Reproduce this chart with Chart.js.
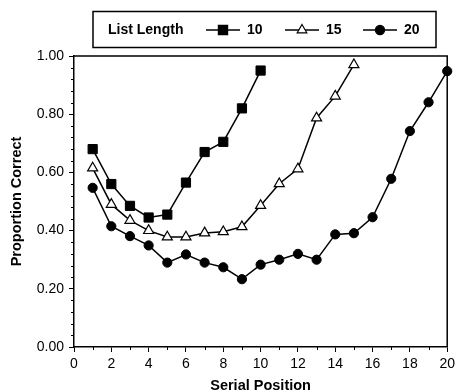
<!DOCTYPE html>
<html>
<head>
<meta charset="utf-8">
<script src="https://cdn.jsdelivr.net/npm/chart.js@4/dist/chart.umd.min.js"></script>
<style>
  body { margin: 0; background: #fff; }
  canvas { display: block; }
</style>
</head>
<body>
<canvas id="serialChart" width="459" height="391"></canvas>
<script>
// serial positions and proportion correct for each list length
const positions = [1, 2, 3, 4, 5, 6, 7, 8, 9, 10, 11, 12, 13, 14, 15, 16, 17, 18, 19, 20];
const len10 = [0.68, 0.56, 0.485, 0.445, 0.455, 0.565, 0.67, 0.705, 0.82, 0.95];
const len15 = [0.615, 0.49, 0.435, 0.40, 0.378, 0.378, 0.392, 0.396, 0.413, 0.486, 0.561, 0.612, 0.787, 0.862, 0.97];
const len20 = [0.547, 0.415, 0.381, 0.349, 0.29, 0.318, 0.29, 0.274, 0.233, 0.283, 0.30, 0.32, 0.30, 0.387, 0.391, 0.446, 0.578, 0.742, 0.841, 0.948];
const listLabels = ['10', '15', '20'];
const yTicks = [0, 0.2, 0.4, 0.6, 0.8, 1.0];

const FONT = '"Liberation Sans", Arial, Helvetica, sans-serif';

function pts(vals) {
    return vals.map((v, i) => ({ x: positions[i], y: v }));
}

// marker for the legend, same shapes as the series
function marker(ctx, style, x, y) {
    ctx.save();
    ctx.lineWidth = 1.2;
    ctx.strokeStyle = '#000';
    ctx.beginPath();
    if (style === 'rect') {
        ctx.rect(x - 4.6, y - 4.6, 9.2, 9.2);
        ctx.fillStyle = '#000';
    } else if (style === 'triangle') {
        ctx.moveTo(x, y - 5.5);
        ctx.lineTo(x + 4.8, y + 2.8);
        ctx.lineTo(x - 4.8, y + 2.8);
        ctx.closePath();
        ctx.fillStyle = '#fff';
    } else {
        ctx.arc(x, y, 4.6, 0, Math.PI * 2);
        ctx.fillStyle = '#000';
    }
    ctx.fill();
    ctx.stroke();
    ctx.restore();
}

// box legend across the top
const boxLegend = {
    id: 'boxLegend',
    afterDraw(chart) {
        const ctx = chart.ctx;
        ctx.save();
        ctx.strokeStyle = '#000';
        ctx.lineWidth = 1.5;
        ctx.strokeRect(93, 11.5, 343, 36);
        ctx.fillStyle = '#000';
        ctx.font = 'bold 14px ' + FONT;
        ctx.textBaseline = 'middle';
        ctx.fillText('List Length', 108, 30);
        const starts = [206, 285, 363];
        chart.data.datasets.forEach((ds, i) => {
            const x0 = starts[i];
            ctx.beginPath();
            ctx.lineWidth = 1.5;
            ctx.moveTo(x0, 30);
            ctx.lineTo(x0 + 34, 30);
            ctx.stroke();
            marker(ctx, ds.pointStyle, x0 + 17, 30);
            ctx.fillStyle = '#000';
            ctx.font = 'bold 14px ' + FONT;
            ctx.fillText(listLabels[i], x0 + 41, 30);
        });
        ctx.restore();
    }
};

// top/right frame and the short minor ticks
const frame = {
    id: 'frame',
    afterDraw(chart) {
        const { ctx, chartArea: a, scales } = chart;
        ctx.save();
        ctx.strokeStyle = '#000';
        ctx.lineWidth = 1.5;
        ctx.beginPath();
        ctx.moveTo(a.left, a.top);
        ctx.lineTo(a.right, a.top);
        ctx.lineTo(a.right, a.bottom);
        ctx.stroke();
        ctx.lineWidth = 1;
        ctx.beginPath();
        for (let v = 1; v < 20; v += 2) {
            const x = Math.round(scales.x.getPixelForValue(v)) + 0.5;
            ctx.moveTo(x, a.bottom);
            ctx.lineTo(x, a.bottom + 3);
        }
        for (let k = 1; k < 25; k++) {
            if (k % 5 === 0) continue;
            const y = Math.round(scales.y.getPixelForValue(k * 0.04)) + 0.5;
            ctx.moveTo(a.left - 3, y);
            ctx.lineTo(a.left, y);
        }
        ctx.stroke();
        ctx.restore();
    }
};

new Chart(document.getElementById('serialChart'), {
    type: 'line',
    data: {
        datasets: [{
            label: listLabels[0],
            data: pts(len10),
            borderColor: '#000',
            borderWidth: 1.5,
            pointStyle: 'rect',
            pointRadius: 6.5,
            pointBackgroundColor: '#000',
            pointBorderColor: '#000',
            pointBorderWidth: 1
        }, {
            label: listLabels[1],
            data: pts(len15),
            borderColor: '#000',
            borderWidth: 1.5,
            pointStyle: 'triangle',
            pointRadius: 5.8,
            pointBackgroundColor: '#fff',
            pointBorderColor: '#000',
            pointBorderWidth: 1.2
        }, {
            label: listLabels[2],
            data: pts(len20),
            borderColor: '#000',
            borderWidth: 1.5,
            pointStyle: 'circle',
            pointRadius: 4.6,
            pointBackgroundColor: '#000',
            pointBorderColor: '#000',
            pointBorderWidth: 1
        }]
    },
    options: {
        responsive: false,
        animation: false,
        clip: false,
        layout: { padding: { top: 56, right: 6, left: 0, bottom: 0 } },
        plugins: {
            legend: { display: false },
            tooltip: { enabled: false }
        },
        scales: {
            x: {
                type: 'linear',
                min: 0,
                max: 20,
                afterFit(scale) { scale.height = 44; },
                border: { color: '#000', width: 1.5 },
                grid: { drawOnChartArea: false, color: '#000', tickLength: 5 },
                ticks: {
                    stepSize: 2,
                    color: '#000',
                    padding: 4,
                    font: { family: FONT, size: 14 }
                },
                title: {
                    display: true,
                    text: 'Serial Position',
                    color: '#000',
                    padding: { top: 0, bottom: -4 },
                    font: { family: FONT, size: 14.5, weight: 'bold' }
                }
            },
            y: {
                min: 0,
                max: 1,
                afterFit(scale) { scale.width = 74; },
                afterBuildTicks(scale) { scale.ticks = yTicks.map(v => ({ value: v })); },
                border: { color: '#000', width: 1.5 },
                grid: { drawOnChartArea: false, color: '#000', tickLength: 5 },
                ticks: {
                    color: '#000',
                    padding: 5,
                    font: { family: FONT, size: 14 },
                    callback: v => v.toFixed(2)
                },
                title: {
                    display: true,
                    text: 'Proportion Correct',
                    color: '#000',
                    padding: { top: 8, bottom: 0 },
                    font: { family: FONT, size: 14.5, weight: 'bold' }
                }
            }
        }
    },
    plugins: [boxLegend, frame]
});
</script>
</body>
</html>
